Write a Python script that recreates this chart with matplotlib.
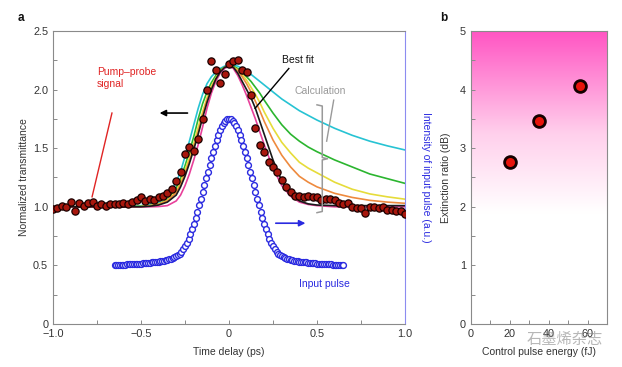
import numpy as np
import matplotlib
matplotlib.use('Agg')
import matplotlib.pyplot as plt
from matplotlib.colors import LinearSegmentedColormap

plt.rcParams['font.family'] = ['Liberation Sans', 'DejaVu Sans']

# --- panel a: pump-probe signal (normalized transmittance) ---
pp_t = np.linspace(-1.0, 1.0, 81)
pp_y = [0.98, 0.99, 1.01, 0.995, 1.04, 0.96, 1.03, 1.01, 1.03, 1.04,
        1.01, 1.02, 1.01, 1.02, 1.02, 1.02, 1.03, 1.02, 1.04, 1.06,
        1.08, 1.05, 1.07, 1.06, 1.08, 1.09, 1.12, 1.15, 1.22, 1.30,
        1.45, 1.51, 1.48, 1.58, 1.75, 2.00, 2.24, 2.17, 2.06, 2.13,
        2.22, 2.24, 2.25, 2.17, 2.15, 1.95, 1.67, 1.53, 1.47, 1.38,
        1.34, 1.30, 1.23, 1.17, 1.13, 1.09, 1.09, 1.08, 1.09, 1.08,
        1.08, 1.06, 1.07, 1.07, 1.06, 1.03, 1.02, 1.03, 1.00, 0.99,
        0.99, 0.95, 1.00, 1.00, 0.99, 1.00, 0.97, 0.97, 0.96, 0.96, 0.94]

# calculated curves
calc_t = [-1.0, -0.7, -0.6, -0.5, -0.45, -0.4, -0.35, -0.3, -0.275, -0.25,
          -0.225, -0.2, -0.175, -0.15, -0.125, -0.1, -0.075, -0.05, -0.025, 0.0,
          0.025, 0.05, 0.075, 0.1, 0.125, 0.15, 0.175, 0.2, 0.25, 0.3,
          0.35, 0.4, 0.45, 0.5, 0.6, 0.7, 0.8, 0.9, 1.0]
calc_magenta = [1.0, 1.0, 1.0, 1.0, 1.0, 1.002, 1.01, 1.05, 1.10, 1.18,
                1.28, 1.40, 1.53, 1.68, 1.84, 1.97, 2.07, 2.14, 2.18, 2.20,
                2.18, 2.12, 2.04, 1.95, 1.85, 1.75, 1.64, 1.53, 1.33, 1.18,
                1.09, 1.04, 1.02, 1.01, 1.0, 1.0, 1.0, 1.0, 1.0]
calc_black = [1.0, 1.0, 1.0, 1.0, 1.005, 1.015, 1.04, 1.10, 1.17, 1.26,
              1.37, 1.49, 1.62, 1.76, 1.89, 2.00, 2.09, 2.15, 2.19, 2.20,
              2.19, 2.14, 2.07, 2.00, 1.93, 1.84, 1.73, 1.62, 1.40, 1.22,
              1.11, 1.05, 1.025, 1.015, 1.01, 1.01, 1.01, 1.01, 1.01]
calc_orange = [1.0, 1.0, 1.0, 1.0, 1.008, 1.02, 1.05, 1.12, 1.19, 1.28,
               1.39, 1.51, 1.64, 1.78, 1.91, 2.01, 2.09, 2.15, 2.19, 2.20,
               2.19, 2.16, 2.11, 2.05, 1.98, 1.90, 1.82, 1.73, 1.57, 1.44,
               1.34, 1.26, 1.21, 1.17, 1.115, 1.08, 1.055, 1.04, 1.03]
calc_yellow = [1.0, 1.0, 1.0, 1.002, 1.01, 1.022, 1.055, 1.13, 1.21, 1.31,
               1.42, 1.54, 1.68, 1.81, 1.93, 2.03, 2.10, 2.16, 2.19, 2.20,
               2.19, 2.17, 2.13, 2.08, 2.02, 1.96, 1.89, 1.81, 1.67, 1.55,
               1.46, 1.38, 1.33, 1.29, 1.21, 1.15, 1.11, 1.085, 1.065]
calc_green = [1.0, 1.0, 1.0, 1.005, 1.01, 1.025, 1.06, 1.16, 1.24, 1.35,
              1.47, 1.60, 1.75, 1.88, 1.98, 2.06, 2.12, 2.17, 2.19, 2.20,
              2.20, 2.18, 2.15, 2.11, 2.07, 2.02, 1.97, 1.91, 1.80, 1.70,
              1.62, 1.56, 1.51, 1.47, 1.40, 1.34, 1.28, 1.24, 1.20]
calc_cyan = [1.0, 1.0, 1.0, 1.01, 1.02, 1.04, 1.09, 1.21, 1.30, 1.43,
             1.56, 1.70, 1.84, 1.96, 2.05, 2.11, 2.15, 2.18, 2.20, 2.21,
             2.21, 2.20, 2.18, 2.16, 2.13, 2.10, 2.07, 2.04, 1.98, 1.92,
             1.87, 1.82, 1.78, 1.74, 1.67, 1.61, 1.56, 1.52, 1.485]

# input pulse (plotted on the same scale)
pulse_t = np.linspace(-0.65, 0.65, 131)
pulse_y = [0.501, 0.502, 0.503, 0.504, 0.505, 0.506, 0.507, 0.508, 0.509, 0.510,
           0.511, 0.512, 0.513, 0.514, 0.515, 0.516, 0.517, 0.518, 0.519, 0.521,
           0.523, 0.525, 0.527, 0.529, 0.531, 0.533, 0.535, 0.538, 0.541, 0.544,
           0.548, 0.552, 0.557, 0.563, 0.570, 0.578, 0.588, 0.601, 0.617, 0.637,
           0.662, 0.692, 0.727, 0.767, 0.810, 0.857, 0.906, 0.958, 1.012, 1.068,
           1.125, 1.183, 1.242, 1.300, 1.358, 1.414, 1.468, 1.520, 1.568, 1.612,
           1.652, 1.686, 1.714, 1.734, 1.746, 1.750, 1.746, 1.734, 1.714, 1.686,
           1.652, 1.612, 1.568, 1.520, 1.468, 1.414, 1.358, 1.300, 1.242, 1.183,
           1.125, 1.068, 1.012, 0.958, 0.906, 0.857, 0.810, 0.767, 0.727, 0.692,
           0.662, 0.637, 0.617, 0.601, 0.588, 0.578, 0.570, 0.563, 0.557, 0.552,
           0.548, 0.544, 0.541, 0.538, 0.535, 0.533, 0.531, 0.529, 0.527, 0.525,
           0.523, 0.521, 0.519, 0.518, 0.517, 0.516, 0.515, 0.514, 0.513, 0.512,
           0.511, 0.510, 0.509, 0.508, 0.507, 0.506, 0.505, 0.504, 0.503, 0.502, 0.501]

# --- panel b: extinction ratio ---
energy = [20, 35, 56]
ratio = [2.77, 3.47, 4.07]

GRAY = '#8a8a8a'
TXT = '#333333'
BLUE = '#2a2ae0'

fig = plt.figure(figsize=(6.22, 3.67), dpi=100)
ax = fig.add_axes([0.0852, 0.1172, 0.5659, 0.7983])
ax2 = fig.add_axes([0.7568, 0.1172, 0.2191, 0.7983])

# calculation curves
curves = [(calc_cyan, '#27c3d3'), (calc_green, '#2bb52f'), (calc_yellow, '#e6dc3a'),
          (calc_orange, '#ee8a3e'), (calc_magenta, '#e8409a'), (calc_black, '#1a1a1a')]
for ys, c in curves:
    ax.plot(calc_t, ys, color=c, lw=1.2, zorder=2)

ax.plot(pulse_t, pulse_y, 'o', ms=4.2, mfc='white', mec=BLUE, mew=1.0, zorder=3)
ax.plot(pp_t, pp_y, 'o', ms=5.2, mfc='#a8170d', mec='#1a0000', mew=0.9, zorder=4)

ax.set_xlim(-1.0, 1.0)
ax.set_ylim(0, 2.5)
ax.set_xticks([-1.0, -0.5, 0, 0.5, 1.0])
ax.set_xticklabels(['\u22121.0', '\u22120.5', '0', '0.5', '1.0'])
ax.set_xticks([-0.75, -0.25, 0.25, 0.75], minor=True)
ax.set_yticks([0, 0.5, 1.0, 1.5, 2.0, 2.5])
ax.set_yticklabels(['0', '0.5', '1.0', '1.5', '2.0', '2.5'])
ax.set_yticks([0.25, 0.75, 1.25, 1.75, 2.25], minor=True)
ax.tick_params(which='both', direction='in', length=3, width=0.7, color=GRAY,
               labelsize=7.8, labelcolor=TXT, right=False, top=False)
for s in ['left', 'bottom', 'top']:
    ax.spines[s].set_color(GRAY)
    ax.spines[s].set_linewidth(0.8)
ax.spines['right'].set_color('#8c8cf0')
ax.spines['right'].set_linewidth(0.8)
ax.set_xlabel('Time delay (ps)', fontsize=7.5, color=TXT, labelpad=6)
ax.set_ylabel('Normalized transmittance', fontsize=7.5, color=TXT, labelpad=3)
ax.text(1.06, 0.5, 'Intensity of input pulse (a.u.)', transform=ax.transAxes,
        rotation=-90, ha='center', va='center', fontsize=7.5, color=BLUE)

# annotations
ax.text(-0.75, 2.10, 'Pump\u2013probe\nsignal', color='#e02424', fontsize=7.5,
        ha='left', va='center', linespacing=1.3)
ax.plot([-0.665, -0.778], [1.80, 1.085], color='#e02424', lw=1.0, zorder=5)
ax.annotate('', xy=(-0.41, 1.80), xytext=(-0.22, 1.80),
            arrowprops=dict(arrowstyle='-|>', color='black', lw=1.2, mutation_scale=9))
ax.text(0.30, 2.25, 'Best fit', color='#111111', fontsize=7.5, ha='left', va='center')
ax.plot([0.34, 0.148], [2.18, 1.84], color='black', lw=1.0, zorder=5)
ax.text(0.375, 1.99, 'Calculation', color='#999999', fontsize=7.5, ha='left', va='center')
ax.plot([0.555, 0.595], [1.56, 1.91], color='#999999', lw=1.0, zorder=5)
ax.plot([0.50, 0.53, 0.53, 0.56, 0.53, 0.53, 0.50],
        [1.87, 1.86, 1.42, 1.41, 1.40, 0.96, 0.95], color='#999999', lw=1.1, zorder=5)
ax.annotate('', xy=(0.45, 0.86), xytext=(0.25, 0.86),
            arrowprops=dict(arrowstyle='-|>', color=BLUE, lw=1.2, mutation_scale=9))
ax.text(0.545, 0.34, 'Input pulse', color=BLUE, fontsize=7.5, ha='center', va='center')

# panel b: pink background fading to white
cmap = LinearSegmentedColormap.from_list(
    'pk', [(0.0, '#ffffff'), (0.38, '#ffffff'), (0.65, '#ffd0ec'), (1.0, '#ff55c3')])
grad = np.linspace(0, 1, 256).reshape(-1, 1)
ax2.imshow(grad, extent=[0, 70, 0, 5], origin='lower', aspect='auto', cmap=cmap, zorder=0)
ax2.plot(energy, ratio, 'o', ms=8.5, mfc='#e8140c', mec='#140000', mew=2.0, zorder=3)
ax2.set_xlim(0, 70)
ax2.set_ylim(0, 5)
ax2.set_xticks([0, 20, 40, 60])
ax2.set_xticks([10, 30, 50], minor=True)
ax2.set_yticks([0, 1, 2, 3, 4, 5])
ax2.set_yticks([0.5, 1.5, 2.5, 3.5, 4.5], minor=True)
ax2.tick_params(which='both', direction='in', length=3, width=0.7, color=GRAY,
                labelsize=7.8, labelcolor=TXT)
for s in ax2.spines.values():
    s.set_color(GRAY)
    s.set_linewidth(0.8)
ax2.set_xlabel('Control pulse energy (fJ)', fontsize=7.5, color=TXT, labelpad=6)
ax2.set_ylabel('Extinction ratio (dB)', fontsize=7.5, color=TXT, labelpad=6)

fig.text(0.029, 0.943, 'a', fontsize=8.5, fontweight='bold', color='#111111')
fig.text(0.708, 0.943, 'b', fontsize=8.5, fontweight='bold', color='#111111')
fig.text(0.908, 0.074, '\u77f3\u58a8\u70ef\u6742\u5fd7', fontsize=11, color='#888888',
         alpha=0.6, ha='center', va='center', family=['Noto Sans CJK SC', 'DejaVu Sans'])

fig.savefig('out.png', dpi=100)
